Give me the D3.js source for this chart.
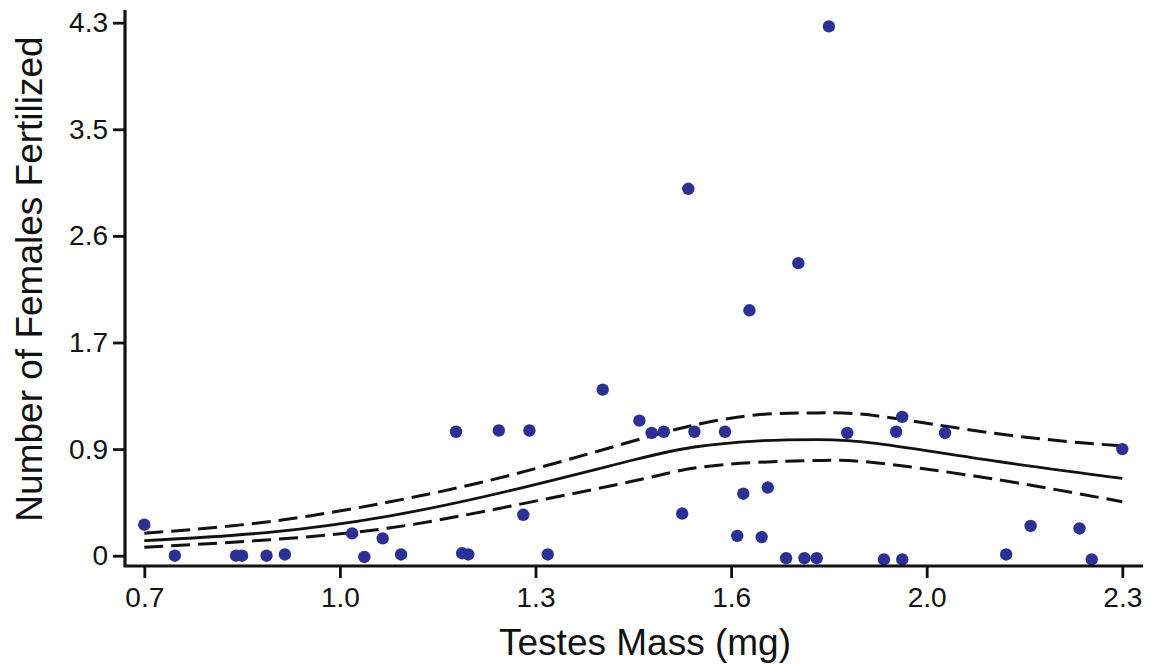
<!DOCTYPE html>
<html>
<head>
<meta charset="utf-8">
<script src="https://cdn.jsdelivr.net/npm/d3@7"></script>
<style>
  body { margin: 0; background: #fff; }
  svg text { font-family: "Liberation Sans", Arial, Helvetica, sans-serif; fill: #111; }
</style>
</head>
<body>
<svg id="chart" width="1158" height="666"></svg>
<script>
// Observed points: testes mass (mg) vs number of females fertilized (jittered)
const massValues = [0.70, 0.75, 0.85, 0.86, 0.90, 0.93, 1.04, 1.06, 1.09, 1.12, 1.21, 1.22, 1.23, 1.28, 1.33, 1.32, 1.36,
  1.45, 1.51, 1.53, 1.55, 1.58, 1.60, 1.65, 1.67, 1.68, 1.71, 1.72, 1.75, 1.78, 1.80, 1.85, 1.91, 1.93, 1.94, 1.94,
  2.01, 2.11, 2.15, 2.23, 2.25, 2.30, 1.82, 1.59, 1.77, 1.69];
const femaleValues = [0.25, 0.00, 0.00, 0.00, 0.00, 0.01, 0.18, -0.01, 0.14, 0.01, 1.00, 0.02, 0.01, 1.01, 1.01, 0.33, 0.01,
  1.34, 1.09, 0.99, 1.00, 0.34, 1.00, 1.00, 0.16, 0.50, 0.15, 0.55, -0.02, -0.02, -0.02, 0.99, -0.03, 1.00, -0.03, 1.12,
  0.99, 0.01, 0.24, 0.22, -0.03, 0.86, 4.27, 2.96, 2.36, 1.98];

// Fitted curve and its confidence band
const fitMass  = [0.70, 0.90, 1.10, 1.30, 1.50, 1.60, 1.70, 1.80, 1.90, 2.10, 2.30];
const fitMean  = [0.121, 0.187, 0.320, 0.527, 0.772, 0.877, 0.925, 0.937, 0.905, 0.758, 0.624];
const fitUpper = [0.181, 0.272, 0.433, 0.651, 0.925, 1.054, 1.135, 1.152, 1.127, 0.981, 0.885];
const fitLower = [0.068, 0.127, 0.223, 0.401, 0.602, 0.707, 0.752, 0.768, 0.748, 0.610, 0.435];

// Axis ticks (equally spaced, labels as printed)
const xTickValues = [0.70, 1.02, 1.34, 1.66, 1.98, 2.30];
const xTickLabels = ["0.7", "1.0", "1.3", "1.6", "2.0", "2.3"];
const yTickValues = [0, 0.86, 1.72, 2.58, 3.44, 4.30];
const yTickLabels = ["0", "0.9", "1.7", "2.6", "3.5", "4.3"];

const svg = d3.select("#chart");

const x = d3.scaleLinear().domain([0.7, 2.3]).range([144.3, 1122.3]);
const y = d3.scaleLinear().domain([0, 4.3]).range([555.7, 22.7]);

const axisLeftX = 125, axisBottomY = 566;

const line = d3.line()
  .x(d => x(d[0]))
  .y(d => y(d[1]))
  .curve(d3.curveNatural);

svg.append("path")
  .attr("d", line(fitMass.map((m, i) => [m, fitUpper[i]])))
  .attr("fill", "none").attr("stroke", "#111").attr("stroke-width", 3)
  .attr("stroke-dasharray", "19,8");

svg.append("path")
  .attr("d", line(fitMass.map((m, i) => [m, fitLower[i]])))
  .attr("fill", "none").attr("stroke", "#111").attr("stroke-width", 3)
  .attr("stroke-dasharray", "19,8");

svg.append("path")
  .attr("d", line(fitMass.map((m, i) => [m, fitMean[i]])))
  .attr("fill", "none").attr("stroke", "#111").attr("stroke-width", 2.8);

// points drawn over the fitted lines
svg.append("g")
  .selectAll("circle")
  .data(massValues.map((m, i) => ({mass: m, females: femaleValues[i]})))
  .enter()
  .append("circle")
  .attr("cx", d => x(d.mass))
  .attr("cy", d => y(d.females))
  .attr("r", 6.2)
  .attr("fill", "#2c3095");

// Axes
const xAxis = d3.axisBottom(x)
  .tickValues(xTickValues)
  .tickFormat((d, i) => xTickLabels[i])
  .tickSize(12)
  .tickPadding(9);

const gx = svg.append("g")
  .attr("transform", `translate(0,${axisBottomY})`)
  .call(xAxis);
gx.select(".domain").remove();
gx.selectAll("line").attr("stroke", "#111").attr("stroke-width", 2.8);
gx.selectAll("text").attr("font-size", 28).attr("fill", "#111");

const yAxis = d3.axisLeft(y)
  .tickValues(yTickValues)
  .tickFormat((d, i) => yTickLabels[i])
  .tickSize(12)
  .tickPadding(5);

const gy = svg.append("g")
  .attr("transform", `translate(${axisLeftX},0)`)
  .call(yAxis);
gy.select(".domain").remove();
gy.selectAll("line").attr("stroke", "#111").attr("stroke-width", 2.8);
gy.selectAll("text").attr("font-size", 28).attr("fill", "#111");

// L-shaped axis frame
svg.append("path")
  .attr("d", `M${axisLeftX},10 V${axisBottomY} H1143`)
  .attr("fill", "none")
  .attr("stroke", "#111")
  .attr("stroke-width", 3.2);

// Titles
svg.append("text")
  .attr("x", 645)
  .attr("y", 655)
  .attr("text-anchor", "middle")
  .attr("font-size", 37)
  .text("Testes Mass (mg)");

svg.append("text")
  .attr("transform", "translate(42,279) rotate(-90)")
  .attr("text-anchor", "middle")
  .attr("font-size", 37)
  .text("Number of Females Fertilized");
</script>
</body>
</html>
